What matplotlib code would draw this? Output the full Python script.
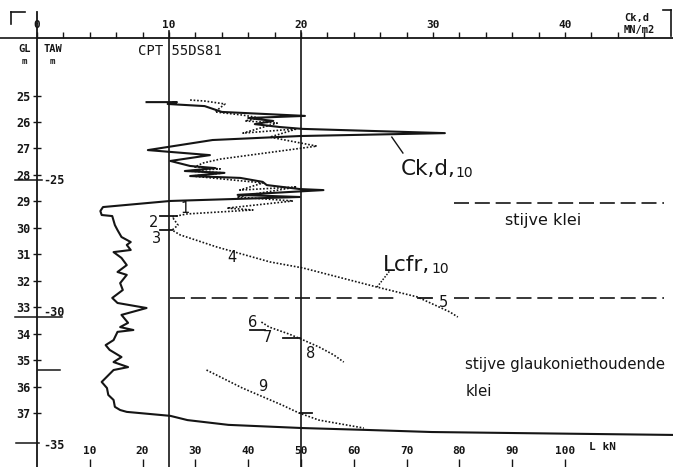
import matplotlib.pyplot as plt
from matplotlib.lines import Line2D

plt.rcParams['font.family'] = 'DejaVu Sans Mono'
plt.rcParams['font.weight'] = 'bold'

# cone resistance Ck,d (MN/m2) against depth below GL (m)
ck_depth = [25.25, 25.25, 25.32, 25.40, 25.62, 25.77, 25.85, 25.96, 26.08, 26.19,
            26.26, 26.42, 26.53, 26.68, 27.06, 27.25, 27.47, 27.66, 27.74, 27.85,
            27.92, 28.04, 28.11, 28.26, 28.38, 28.53, 28.57, 28.75, 28.83, 28.98,
            29.21, 29.36, 29.51, 29.55, 29.89, 30.08, 30.34, 30.53, 30.64, 30.83,
            30.91, 31.13, 31.40, 31.66, 31.77, 32.08, 32.34, 32.64, 32.83, 33.02,
            33.28, 33.58, 33.74, 33.85, 33.92, 34.23, 34.42, 34.60, 34.87, 35.06,
            35.25, 35.36, 35.81, 36.04, 36.30, 36.49, 36.75, 36.87, 36.94, 37.09,
            37.25, 37.43, 37.55, 37.62, 37.70, 37.74, 37.81]
ck_value = [8.3, 10.6, 9.9, 12.7, 14.0, 20.3, 16.0, 17.9, 16.5, 18.4,
            20.1, 30.9, 19.9, 13.3, 8.4, 13.1, 10.1, 11.6, 13.5, 11.2,
            14.2, 11.6, 15.4, 17.1, 17.4, 19.9, 21.7, 15.2, 19.9, 10.1,
            5.0, 4.8, 4.9, 5.7, 5.9, 6.1, 6.4, 7.1, 6.8, 7.1,
            5.8, 6.4, 6.8, 6.1, 6.8, 6.3, 6.5, 5.7, 6.1, 8.3,
            6.4, 6.9, 6.3, 7.3, 6.1, 5.8, 5.2, 5.5, 6.4, 5.8,
            6.9, 5.8, 4.9, 5.3, 5.4, 5.8, 5.9, 6.3, 6.8, 10.1,
            11.4, 14.5, 20.1, 24.9, 29.9, 36.4, 48.2]

# friction load Lcfr (kN), runs 1-5, 6-8 and 9
lcfr_depth = [25.17, 25.21, 25.32, 25.62, 25.74, 25.85, 25.96, 26.04, 26.42, 26.26,
              26.57, 26.91, 27.40, 27.55, 27.70, 27.77, 27.85, 27.92, 28.04, 28.30,
              28.57, 28.45, 28.83, 28.98, 29.25, 29.32, 29.47, 29.58, 29.89, 30.08,
              30.26, 30.72, 31.28, 31.51, 32.23, 32.60, 33.17, 33.36]
lcfr_value = [29.0, 31.8, 35.6, 33.7, 39.0, 42.2, 39.4, 45.5, 39.0, 49.2,
              44.1, 53.0, 34.7, 31.4, 29.9, 34.7, 28.4, 35.6, 29.4, 42.8,
              38.4, 49.2, 37.9, 48.5, 36.0, 40.9, 28.4, 25.6, 26.7, 25.6,
              27.1, 34.1, 44.1, 50.4, 64.4, 72.0, 78.2, 79.7]
run68_depth = [33.55, 33.74, 34.00, 34.19, 34.49, 34.79, 35.06]
run68_value = [42.5, 44.0, 47.7, 50.0, 53.4, 56.2, 58.1]
run9_depth = [35.36, 36.04, 36.68, 36.98, 37.25, 37.55]
run9_value = [32.1, 38.9, 46.4, 49.6, 53.4, 61.9]

gl_ticks = list(range(25, 38))
taw_gl = [28.2, 33.2, 38.2]
taw_labels = ['-25', '-30', '-35']
l_ticks = list(range(10, 101, 10))
ck_ticks = list(range(0, 41, 10))

# layer boundaries (depth, L from, L to)
layer_lines = [(29.06, 79.0, 118.7), (32.64, 25.2, 68.0), (32.64, 79.0, 118.7)]

W, H = 673, 467
L_MAX = (W - 37) / 5.28
D_TOP, D_BOT = 22.83, 39.02
ink = '#151515'


def px(x, y):
    return x / W, 1 - y / H


fig = plt.figure(figsize=(6.73, 4.67), dpi=100)
ax = fig.add_axes([37 / W, 0, 1 - 37 / W, 1 - 38 / H])
ax.set_xlim(0, L_MAX)
ax.set_ylim(D_BOT, D_TOP)
for s in ['top', 'right', 'bottom']:
    ax.spines[s].set_visible(False)
ax.spines['left'].set_linewidth(1.3)
ax.spines['left'].set_color(ink)

ax.set_xticks(l_ticks)
ax.tick_params(axis='x', direction='in', length=6, width=1, pad=-15,
               labelsize=8, colors=ink)
ax.set_yticks(gl_ticks)
ax.tick_params(axis='y', direction='inout', length=6, width=1, pad=1.5,
               labelsize=8.5, colors=ink)

ax_ck = ax.twiny()
ax_ck.set_xlim(0, L_MAX / 2.5)
for s in ['bottom', 'right', 'left']:
    ax_ck.spines[s].set_visible(False)
ax_ck.spines['top'].set_linewidth(1.3)
ax_ck.spines['top'].set_color(ink)
ax_ck.set_xticks(ck_ticks)
ax_ck.set_xticks(range(0, 48, 2), minor=True)
ax_ck.tick_params(axis='x', which='both', direction='out', length=4, width=1,
                  pad=1.5, labelsize=8, colors=ink)

# reference verticals at 10 and 20 MN/m2 and the zero line above the axis
for lv in [25, 50]:
    ax.plot([lv, lv], [D_BOT, 22.55], color=ink, lw=1.2, clip_on=False)
ax.plot([0, 0], [D_TOP, 21.85], color=ink, lw=1.3, clip_on=False)

# curves
ax_ck.plot(ck_value, ck_depth, color=ink, lw=1.5, clip_on=True)
for xv, yv in [(lcfr_value, lcfr_depth), (run68_value, run68_depth),
               (run9_value, run9_depth)]:
    ax.plot(xv, yv, color=ink, lw=1.2, ls=(0, (1, 1.1)))

for d, x0, x1 in layer_lines:
    ax.plot([x0, x1], [d, d], color=ink, lw=1.2, dashes=(9, 3.5))

# short reading marks
for d, x0, x1 in [(29.55, 23.3, 26.5), (30.08, 23.3, 25.6), (32.64, 72.2, 74.8),
                  (33.85, 40.3, 43.2), (34.15, 46.6, 49.8), (36.98, 49.8, 52.1)]:
    ax.plot([x0, x1], [d, d], color=ink, lw=1.3)

# TAW marks
for d, x0, x1 in [(28.2, -4.2, 1.0), (33.35, -4.2, 4.7), (35.36, 0.2, 4.4),
                  (38.1, -4.0, 0.3)]:
    ax.plot([x0, x1], [d, d], color=ink, lw=1.1, clip_on=False)
for d, t in zip(taw_gl, taw_labels):
    ax.annotate(t, xy=(0, d), xytext=(4.5, 0), textcoords='offset points',
                ha='left', va='center', fontsize=8.5, color=ink)

sans = dict(family='DejaVu Sans', weight='normal', color=ink)

# run numbers
for t, xv, yv in [('1', 28.0, 29.25), ('2', 22.0, 29.81), ('3', 22.7, 30.38),
                  ('4', 36.9, 31.13), ('5', 76.9, 32.83), ('6', 40.9, 33.55),
                  ('7', 43.6, 34.15), ('8', 51.9, 34.75), ('9', 42.8, 36.0)]:
    ax.text(xv, yv, t, ha='center', va='center', fontsize=10.5, **sans)

ax.plot([67.2, 69.3], [26.57, 27.17], color=ink, lw=1.0)
t_ck = ax.text(68.8, 28.0, 'Ck,d,', fontsize=15.5, va='baseline', **sans)
ax.annotate('10', xy=(1, 0), xycoords=t_ck, xytext=(0.5, -1),
            textcoords='offset points', va='bottom', fontsize=10, **sans)
ax.plot([64.4, 66.8], [32.23, 31.62], color=ink, lw=1.1, ls=(0, (1, 1)))
t_l = ax.text(65.6, 31.62, 'Lcfr,', fontsize=15.5, va='baseline', **sans)
ax.annotate('10', xy=(1, 0), xycoords=t_l, xytext=(0.5, -1),
            textcoords='offset points', va='bottom', fontsize=10, **sans)
ax.text(88.6, 29.89, 'stijve klei', fontsize=11.5, va='baseline', **sans)
ax.text(81.1, 35.32, 'stijve glaukoniethoudende', fontsize=10.8, va='baseline', **sans)
ax.text(81.1, 36.34, 'klei', fontsize=10.8, va='baseline', **sans)
ax.text(19.1, 23.32, 'CPT 55DS81', fontsize=10, va='center',
        family='DejaVu Sans Mono', weight='normal', color=ink)
ax.text(104.5, 38.27, 'L kN', fontsize=8, va='center', color=ink)

# headers and frame marks
fig.text(*px(25, 49), 'GL', ha='center', va='center', fontsize=7.5, color=ink)
fig.text(*px(24, 61), 'm', ha='center', va='center', fontsize=6.5, color=ink)
fig.text(*px(53, 49), 'TAW', ha='center', va='center', fontsize=7.5, color=ink)
fig.text(*px(52, 61), 'm', ha='center', va='center', fontsize=6.5, color=ink)
fig.text(*px(624, 18), 'Ck,d', ha='left', va='center', fontsize=7.5, color=ink)
fig.text(*px(624, 30), 'MN/m2', ha='left', va='center', fontsize=7.5, color=ink)

for (x0, y0), (x1, y1) in [((0, 38), (37, 38)), ((11, 12), (11, 24)),
                           ((11, 12), (25, 12)), ((663, 10), (671, 10)),
                           ((671, 10), (671, 36))]:
    a, b = px(x0, y0)
    c, d = px(x1, y1)
    fig.add_artist(Line2D([a, c], [b, d], color=ink, lw=1.2))

fig.savefig('out.png', dpi=100, facecolor='white')
